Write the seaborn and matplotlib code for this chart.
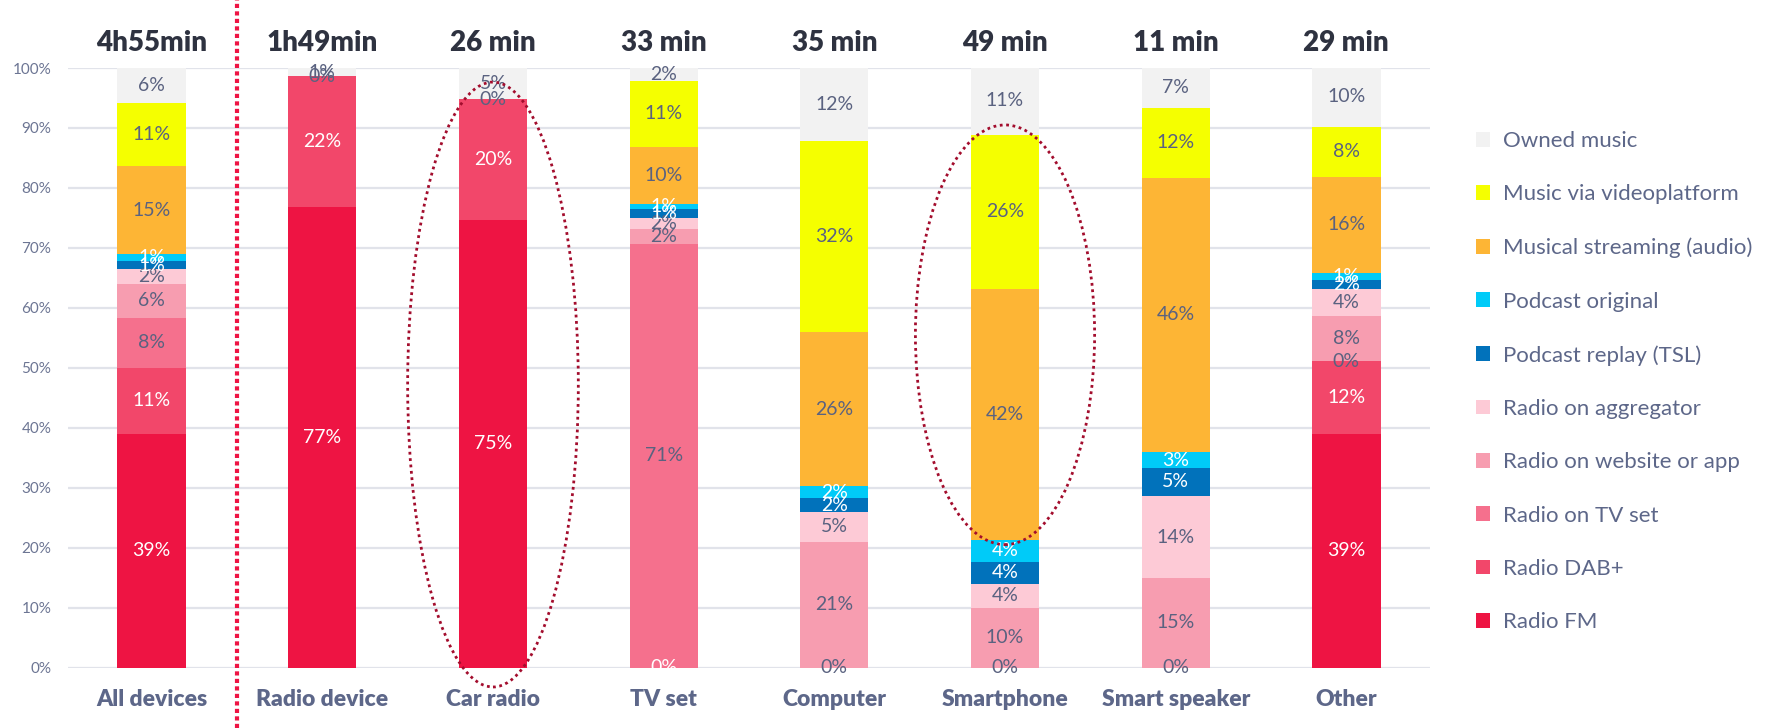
import numpy as np
import pandas as pd
import matplotlib
matplotlib.use('Agg')
import matplotlib.pyplot as plt
import matplotlib.transforms as mtransforms
from matplotlib.patches import Patch, Ellipse, Circle
import seaborn as sns

nan = np.nan

devices = ['All devices', 'Radio device', 'Car radio', 'TV set',
           'Computer', 'Smartphone', 'Smart speaker', 'Other']
durations = ['4h55min', '1h49min', '26 min', '33 min',
             '35 min', '49 min', '11 min', '29 min']

# shares in %, stacked from bottom (Radio FM) to top (Owned music)
radio_fm = [39.0, 76.8, 74.6, 0, nan, nan, nan, 38.9]
radio_dab = [11.0, 21.8, 20.2, nan, nan, nan, nan, 12.2]
radio_tv = [8.3, 0, 0, 70.7, 0, 0, 0, 0]
radio_web = [5.7, nan, nan, 2.4, 21.0, 9.9, 14.9, 7.6]
radio_agg = [2.4, nan, nan, 1.9, 4.9, 4.1, 13.7, 4.4]
pod_replay = [1.4, nan, nan, 1.4, 2.4, 3.6, 4.7, 1.6]
pod_orig = [1.2, nan, nan, 0.9, 1.9, 3.7, 2.6, 1.1]
streaming = [14.6, nan, nan, 9.6, 25.7, 41.9, 45.8, 16.1]
video = [10.6, nan, nan, 10.9, 31.9, 25.7, 11.7, 8.3]
owned = [5.9, 1.4, 5.2, 2.2, 12.2, 11.2, 6.6, 10.0]

sources = ['Radio FM', 'Radio DAB+', 'Radio on TV set', 'Radio on website or app',
           'Radio on aggregator', 'Podcast replay (TSL)', 'Podcast original',
           'Musical streaming (audio)', 'Music via videoplatform', 'Owned music']
series = [radio_fm, radio_dab, radio_tv, radio_web, radio_agg,
          pod_replay, pod_orig, streaming, video, owned]
colors = ['#ee1443', '#f2476a', '#f5708d', '#f79db0', '#fdcad6',
          '#0172bb', '#00cbf8', '#fdb535', '#f5ff00', '#f2f2f2']
white_labels = {'Radio FM', 'Radio DAB+', 'Podcast replay (TSL)', 'Podcast original'}

sns.set_theme(style='white')
plt.rcParams['font.family'] = ['Lato', 'DejaVu Sans']

W, H = 1777, 728
fig = plt.figure(figsize=(W / 100, H / 100), dpi=100)
ax_l, ax_r, ax_t, ax_b = 68, 1430, 68, 667.5
ax = fig.add_axes([ax_l / W, 1 - ax_b / H, (ax_r - ax_l) / W, (ax_b - ax_t) / H])

for y in range(0, 101, 10):
  ax.axhline(y, color='#e1e3ea', lw=1.6, zorder=0)

bottom = np.zeros(len(devices))
for name, vals, col in zip(sources, series, colors):
  v = np.nan_to_num(np.array(vals, dtype=float))
  df = pd.DataFrame({'device': devices, 'share': v})
  sns.barplot(data=df, x='device', y='share', order=devices, color=col,
              saturation=1, width=0.4, errorbar=None, bottom=bottom.copy(),
              linewidth=0, ax=ax, zorder=2)
  tc = 'white' if name in white_labels else '#5a6280'
  for i, raw in enumerate(vals):
    if raw is None or np.isnan(raw):
      continue
    ax.text(i, bottom[i] + raw / 2, f'{int(raw + 0.5)}%', ha='center', va='center',
            fontsize=14, color=tc, zorder=4)
  bottom = bottom + v

ax.set_xlim(-0.49, 7.49)
ax.set_ylim(0, 100)
ax.set_yticks(range(0, 101, 10))
ax.set_yticklabels([f'{t}%' for t in range(0, 101, 10)], fontsize=11, color='#6c7593')
ax.tick_params(axis='y', length=0, pad=12)
ax.set_xticks([])
ax.set_xlabel('')
ax.set_ylabel('')
for s in ax.spines.values():
  s.set_visible(False)

trans = mtransforms.blended_transform_factory(ax.transData, ax.transAxes)
hpx = ax_b - ax_t
for i, (d, t) in enumerate(zip(devices, durations)):
  ax.text(i, (ax_b - 43) / hpx, t, transform=trans, ha='center', va='center',
          fontsize=20, fontweight='heavy', color='#2e3240')
  ax.text(i, (ax_b - 700) / hpx, d, transform=trans, ha='center', va='center',
          fontsize=16.5, fontweight='heavy', color='#5d6789')

# red dotted separator after "All devices"
ax.plot([0.5, 0.5], [(ax_b - 728) / hpx, ax_b / hpx], transform=trans, clip_on=False,
        color='#ee1443', lw=3, linestyle=(0, (1, 0.8)), dash_capstyle='butt', zorder=5)

# dotted highlight ellipses
ax.add_patch(Ellipse((2, 47.2), 1.0, 100.9, fill=False, edgecolor='#a30d2d', lw=2,
                     linestyle=(0, (1, 1.3)), clip_on=False, zorder=5))
ax.add_patch(Ellipse((5, 55.5), 1.05, 70.0, fill=False, edgecolor='#a30d2d', lw=2,
                     linestyle=(0, (1, 1.3)), clip_on=False, zorder=5))

handles = [Patch(facecolor=c, edgecolor='none') for c in colors][::-1]
leg = ax.legend(handles, sources[::-1], loc='upper left',
                bbox_to_anchor=(1476 / W, 1 - 131 / H), bbox_transform=fig.transFigure,
                frameon=False, fontsize=16, handlelength=0.65, handleheight=0.65,
                handletextpad=0.55, labelspacing=1.5, borderpad=0, borderaxespad=0,
                labelcolor='#5d6789')

# logo fragment at the bottom right corner
fig.patches.append(Circle((1733 / W, 1 - 761 / H), 38 / W, transform=fig.transFigure,
                          facecolor='#ee1443', edgecolor='none'))

fig.savefig('out.png', dpi=100)
